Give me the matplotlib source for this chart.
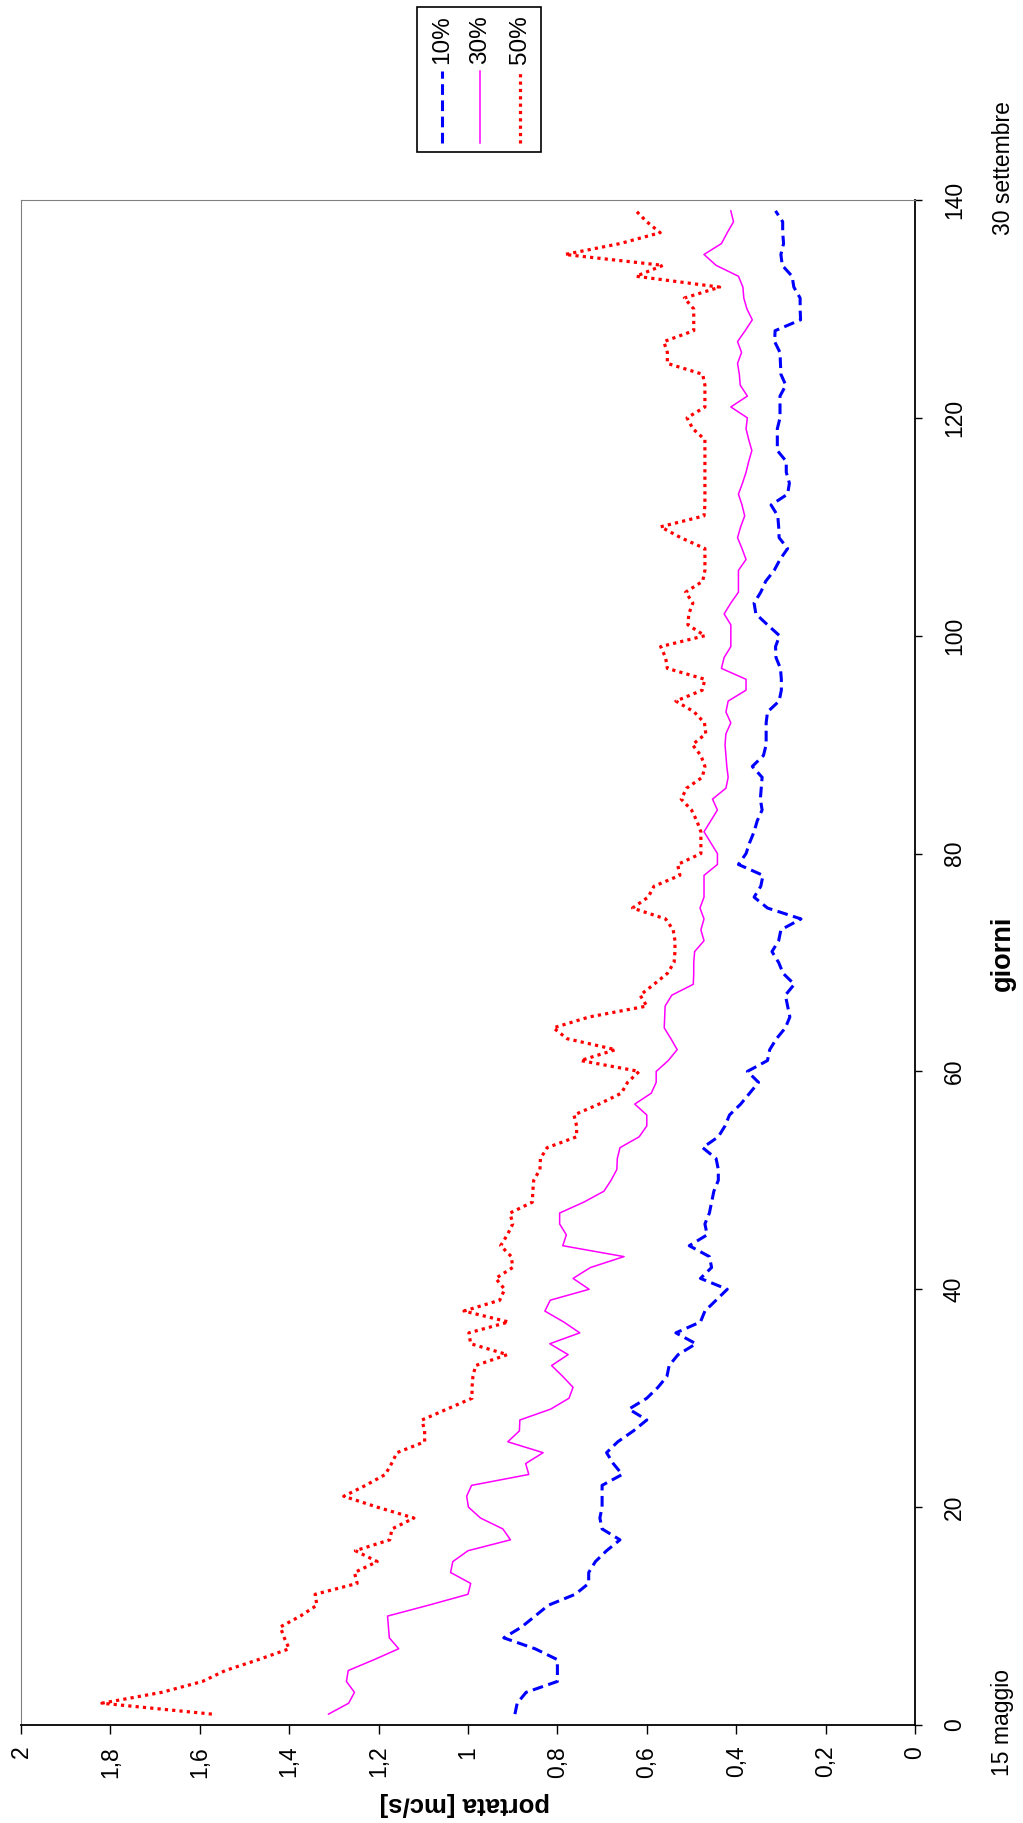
import numpy as np
import matplotlib.pyplot as plt
from matplotlib.lines import Line2D
from matplotlib.patches import Rectangle
from matplotlib.ticker import FuncFormatter

plt.rcParams['font.family'] = ['Liberation Sans', 'DejaVu Sans']

# giorni dal 15 maggio al 30 settembre
giorni = np.arange(1, 140)

# portata superata con frequenza 10%, 30%, 50% [mc/s]
q10 = [0.895, 0.890, 0.870, 0.800, 0.800, 0.800, 0.850, 0.920, 0.880, 0.850,
       0.820, 0.760, 0.730, 0.730, 0.715, 0.690, 0.660, 0.700, 0.705, 0.700,
       0.700, 0.700, 0.655, 0.675, 0.690, 0.665, 0.630, 0.600, 0.640, 0.600,
       0.575, 0.555, 0.550, 0.530, 0.490, 0.535, 0.480, 0.470, 0.445, 0.420,
       0.480, 0.455, 0.460, 0.505, 0.465, 0.470, 0.460, 0.455, 0.450, 0.440,
       0.440, 0.445, 0.475, 0.440, 0.425, 0.415, 0.390, 0.370, 0.350, 0.375,
       0.330, 0.325, 0.310, 0.290, 0.280, 0.285, 0.290, 0.270, 0.295, 0.305,
       0.320, 0.305, 0.300, 0.255, 0.330, 0.360, 0.345, 0.340, 0.395, 0.378,
       0.370, 0.360, 0.353, 0.342, 0.346, 0.344, 0.342, 0.364, 0.339, 0.333,
       0.333, 0.333, 0.330, 0.304, 0.299, 0.299, 0.301, 0.311, 0.312, 0.303,
       0.330, 0.356, 0.360, 0.345, 0.334, 0.315, 0.302, 0.285, 0.304, 0.305,
       0.307, 0.322, 0.285, 0.281, 0.288, 0.288, 0.308, 0.308, 0.308, 0.302,
       0.302, 0.302, 0.289, 0.300, 0.301, 0.302, 0.314, 0.313, 0.256, 0.257,
       0.257, 0.271, 0.275, 0.297, 0.300, 0.294, 0.296, 0.296, 0.312]

q30 = [1.312, 1.267, 1.254, 1.272, 1.268, 1.210, 1.155, 1.176, 1.178, 1.180,
       1.088, 1.000, 0.994, 1.039, 1.034, 1.000, 0.905, 0.922, 0.972, 0.999,
       1.003, 0.992, 0.864, 0.871, 0.832, 0.911, 0.885, 0.884, 0.815, 0.774,
       0.765, 0.788, 0.813, 0.776, 0.817, 0.750, 0.786, 0.828, 0.816, 0.729,
       0.765, 0.726, 0.651, 0.788, 0.780, 0.795, 0.795, 0.741, 0.696, 0.680,
       0.667, 0.666, 0.660, 0.617, 0.600, 0.600, 0.627, 0.590, 0.579, 0.579,
       0.552, 0.532, 0.546, 0.561, 0.560, 0.559, 0.544, 0.496, 0.495, 0.495,
       0.493, 0.472, 0.479, 0.472, 0.481, 0.472, 0.472, 0.472, 0.442, 0.442,
       0.457, 0.472, 0.457, 0.442, 0.453, 0.423, 0.418, 0.421, 0.423, 0.425,
       0.423, 0.412, 0.423, 0.418, 0.378, 0.378, 0.433, 0.427, 0.412, 0.412,
       0.412, 0.427, 0.412, 0.395, 0.395, 0.395, 0.378, 0.387, 0.397, 0.390,
       0.381, 0.387, 0.395, 0.386, 0.378, 0.372, 0.365, 0.372, 0.378, 0.375,
       0.412, 0.375, 0.391, 0.393, 0.397, 0.388, 0.397, 0.380, 0.364, 0.376,
       0.383, 0.385, 0.395, 0.445, 0.472, 0.433, 0.420, 0.406, 0.412]

q50 = [1.573, 1.819, 1.685, 1.594, 1.543, 1.469, 1.400, 1.411, 1.420, 1.375,
       1.338, 1.342, 1.248, 1.254, 1.203, 1.252, 1.175, 1.170, 1.121, 1.203,
       1.278, 1.229, 1.185, 1.171, 1.159, 1.097, 1.097, 1.103, 1.047, 0.991,
       0.991, 0.989, 0.983, 0.912, 0.994, 0.998, 0.909, 1.009, 0.929, 0.918,
       0.938, 0.900, 0.903, 0.927, 0.912, 0.900, 0.906, 0.856, 0.855, 0.853,
       0.839, 0.838, 0.823, 0.757, 0.757, 0.763, 0.707, 0.657, 0.643, 0.617,
       0.748, 0.670, 0.778, 0.809, 0.729, 0.600, 0.615, 0.584, 0.554, 0.539,
       0.537, 0.537, 0.541, 0.558, 0.632, 0.597, 0.584, 0.526, 0.531, 0.479,
       0.479, 0.479, 0.488, 0.500, 0.523, 0.511, 0.476, 0.470, 0.479, 0.498,
       0.468, 0.471, 0.494, 0.535, 0.476, 0.470, 0.554, 0.558, 0.569, 0.470,
       0.508, 0.506, 0.497, 0.513, 0.475, 0.470, 0.470, 0.470, 0.524, 0.569,
       0.472, 0.470, 0.470, 0.470, 0.470, 0.470, 0.470, 0.470, 0.497, 0.510,
       0.470, 0.470, 0.470, 0.475, 0.554, 0.554, 0.562, 0.495, 0.495, 0.495,
       0.516, 0.437, 0.624, 0.564, 0.783, 0.660, 0.570, 0.600, 0.624]

etichette = ['10%', '30%', '50%']
colori = ['#0000FF', '#FF00FF', '#FF0000']
stili = [(0, (3.5, 1.8)), '-', (0, (1.0, 1.3))]
spessori = [2.2, 1.1, 2.3]

W, H = 1023, 1823
fig = plt.figure(figsize=(W / 100, H / 100), dpi=100)

def fx(px):
    return px / W

def fy(py):
    return 1 - py / H

# grafico ruotato: portata in orizzontale (invertita), giorni in verticale
ax = fig.add_axes([fx(21), fy(1725), fx(915) - fx(21), fy(200) - fy(1725)])

for serie, col, ls, lw in zip([q10, q30, q50], colori, stili, spessori):
    ax.plot(serie, giorni, color=col, linestyle=ls, linewidth=lw)

ax.set_xlim(2, 0)
ax.set_ylim(0, 140)
ax.set_xticks(np.arange(0, 2.01, 0.2))
ax.set_yticks(np.arange(0, 141, 20))
ax.xaxis.set_major_formatter(FuncFormatter(lambda v, p: f'{v:g}'.replace('.', ',')))

ax.yaxis.tick_right()
ax.tick_params(axis='x', direction='out', length=6.5, width=1, pad=8.5,
               labelsize=16.5, labelrotation=90, top=False)
ax.tick_params(axis='y', direction='out', length=5, width=1, pad=15,
               labelsize=16.5, labelrotation=90, left=False)
for lab in ax.get_yticklabels():
    lab.set_va('center')

ax.spines['left'].set_color('#808080')
ax.spines['top'].set_color('#808080')
ax.spines['right'].set_linewidth(1.3)
ax.spines['bottom'].set_linewidth(1.3)

# titoli degli assi e date
fig.text(fx(465), fy(1804), 'portata [mc/s]', rotation=180, fontsize=18.5,
         fontweight='bold', ha='center', va='center')
fig.text(fx(1003), fy(953), 'giorni', rotation=90, fontsize=19.5,
         fontweight='bold', ha='center', va='center')
fig.text(fx(1003), fy(1722), '15 maggio', rotation=90, fontsize=16.5,
         ha='center', va='center')
fig.text(fx(1003), fy(168), '30 settembre', rotation=90, fontsize=16.5,
         ha='center', va='center')

# legenda
fig.add_artist(Rectangle((fx(417), fy(152)), fx(541) - fx(417), fy(7) - fy(152),
                         transform=fig.transFigure, fill=False,
                         edgecolor='black', linewidth=1.2))
for xc, lab, col, ls, lw in zip([442, 480, 520], etichette, colori, stili, spessori):
    fig.text(fx(xc), fy(40), lab, rotation=90, fontsize=17.5,
             ha='center', va='center')
    fig.add_artist(Line2D([fx(xc), fx(xc)], [fy(143), fy(71)],
                          transform=fig.transFigure, color=col,
                          linestyle=ls, linewidth=lw))

fig.savefig('out.png', dpi=100)
